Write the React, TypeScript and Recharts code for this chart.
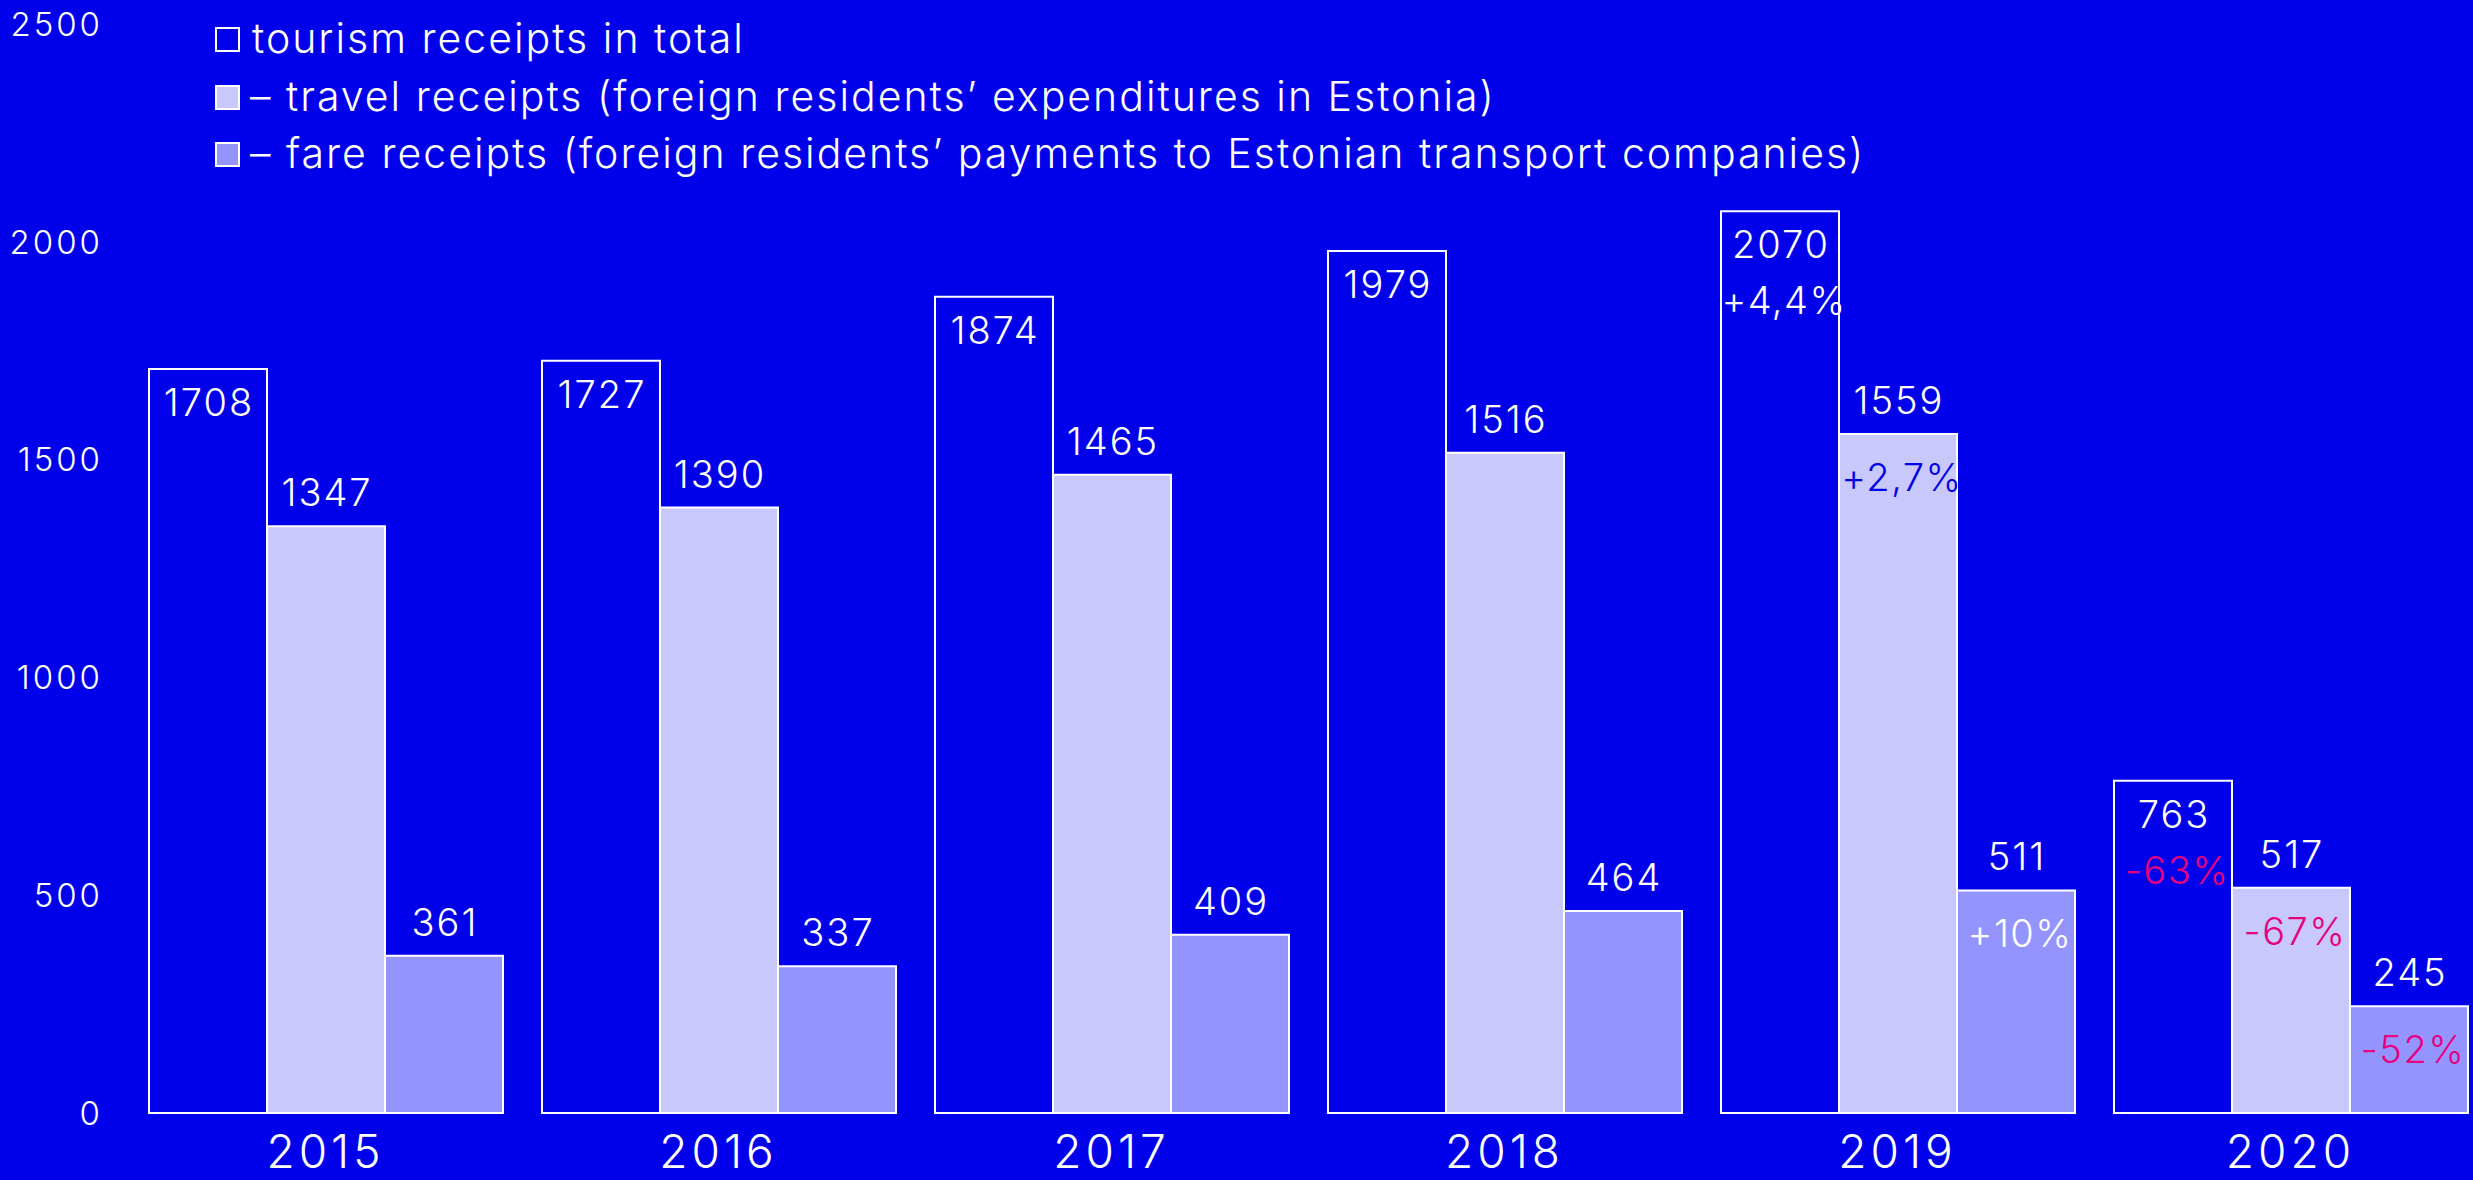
import { BarChart, Bar, XAxis, YAxis, Legend, LabelList } from "recharts";

const years = ["2015", "2016", "2017", "2018", "2019", "2020"];
const totalReceipts = [1708, 1727, 1874, 1979, 2070, 763];
const travelReceipts = [1347, 1390, 1465, 1516, 1559, 517];
const fareReceipts = [361, 337, 409, 464, 511, 245];
const totalChange = ["", "", "", "", "+4,4%", "-63%"];
const travelChange = ["", "", "", "", "+2,7%", "-67%"];
const fareChange = ["", "", "", "", "+10%", "-52%"];
const yTicks = [0, 500, 1000, 1500, 2000, 2500];
const seriesNames = [
  "tourism receipts in total",
  "– travel receipts (foreign residents’ expenditures in Estonia)",
  "– fare receipts (foreign residents’ payments to Estonian transport companies)",
];

const BG = "#0000EB";
const TRAVEL = "#C8C8FD";
const FARE = "#9494FF";
const PINK = "#E6007E";
const FONT = "Inter, 'DejaVu Sans', sans-serif";

const data = years.map((year, i) => ({
  year,
  total: totalReceipts[i],
  travel: travelReceipts[i],
  fare: fareReceipts[i],
  totalPct: totalChange[i],
  travelPct: travelChange[i],
  farePct: fareChange[i],
}));

// value labels: inside the top of the total bar, above the others
const valueLabel = (inside: boolean) => (props: any) => {
  const x = Number(props.x) + Number(props.width) / 2 + 1;
  const y = Number(props.y) + (inside ? 47 : -20);
  return (
    <text x={x} y={y} textAnchor="middle" fill="#fff" fontSize={38} fontWeight={300} fontFamily={FONT} letterSpacing={2}>
      {props.value}
    </text>
  );
};

const pctLabel = (offset: number, positiveColor: string) => (props: any) => {
  if (!props.value) return null;
  const x = Number(props.x) + Number(props.width) / 2 + 4;
  const y = Number(props.y) + offset;
  const color = String(props.value).startsWith("-") ? PINK : positiveColor;
  return (
    <text x={x} y={y} textAnchor="middle" fill={color} fontSize={38} fontWeight={300} fontFamily={FONT} letterSpacing={1.5}>
      {props.value}
    </text>
  );
};

const renderLegend = (props: any) => {
  const items = [...(props.payload || [])].sort(
    (a: any, b: any) => seriesNames.indexOf(a.value) - seriesNames.indexOf(b.value)
  );
  const baselines = [53, 111, 168];
  return (
    <svg width={1900} height={190}>
      {items.map((item: any, i: number) => (
        <g key={i}>
          <rect x={216} y={baselines[i] - 25} width={23} height={23} fill={item.color} stroke="#fff" strokeWidth={2} />
          <text x={i === 0 ? 252 : 250} y={baselines[i]} fill="#fff" fontSize={41} fontWeight={300} fontFamily={FONT} letterSpacing={2}>
            {item.value}
          </text>
        </g>
      ))}
    </svg>
  );
};

export default function App() {
  return (
    <div style={{ position: "fixed", inset: 0, overflow: "hidden", background: BG }}>
      <BarChart
        width={2500}
        height={1180}
        data={data}
        margin={{ top: 24, right: 13, bottom: 0, left: 0 }}
        barCategoryGap={20}
        barGap={0}
      >
        <XAxis
          dataKey="year"
          axisLine={false}
          tickLine={false}
          height={67}
          tickSize={0}
          tickMargin={22}
          tick={{ fill: "#fff", fontSize: 46, fontWeight: 300, fontFamily: FONT, letterSpacing: 4 }}
        />
        <YAxis
          domain={[0, 2500]}
          ticks={yTicks}
          width={129}
          axisLine={false}
          tickLine={false}
          tickSize={0}
          tickMargin={26}
          tick={{ fill: "#fff", fontSize: 33, fontWeight: 300, fontFamily: FONT, letterSpacing: 3 }}
        />
        <Legend
          layout="vertical"
          align="center"
          verticalAlign="middle"
          wrapperStyle={{ top: 0, left: 0, width: 1900, height: 190 }}
          content={renderLegend}
        />
        <Bar dataKey="total" name={seriesNames[0]} fill={BG} stroke="#fff" strokeWidth={2} isAnimationActive={false}>
          <LabelList dataKey="total" content={valueLabel(true)} />
          <LabelList dataKey="totalPct" content={pctLabel(103, "#fff")} />
        </Bar>
        <Bar dataKey="travel" name={seriesNames[1]} fill={TRAVEL} stroke="#fff" strokeWidth={2} isAnimationActive={false}>
          <LabelList dataKey="travel" content={valueLabel(false)} />
          <LabelList dataKey="travelPct" content={pctLabel(57, BG)} />
        </Bar>
        <Bar dataKey="fare" name={seriesNames[2]} fill={FARE} stroke="#fff" strokeWidth={2} isAnimationActive={false}>
          <LabelList dataKey="fare" content={valueLabel(false)} />
          <LabelList dataKey="farePct" content={pctLabel(57, "#fff")} />
        </Bar>
      </BarChart>
    </div>
  );
}
